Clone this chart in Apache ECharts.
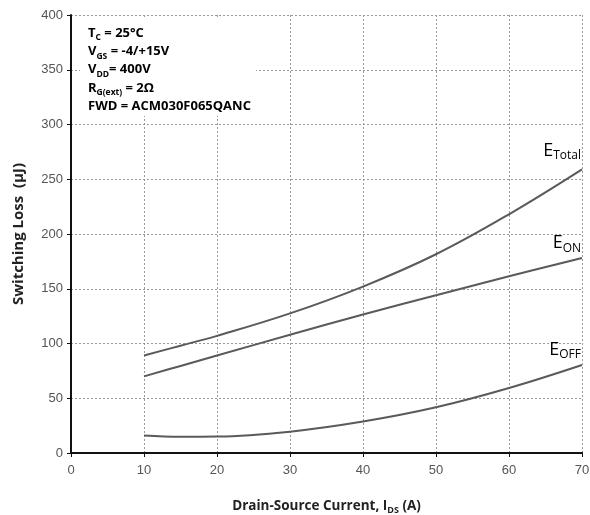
<!DOCTYPE html>
<html><head><meta charset="utf-8">
<script src="https://cdn.jsdelivr.net/npm/echarts@6/dist/echarts.min.js"></script>
<style>html,body{margin:0;padding:0;background:#fff}#c{width:590px;height:515px}</style>
</head><body><div id="c"></div>
<script>
// Data
const currentA = [10, 15, 20, 30, 40, 50, 60, 70];
const eTotal   = [89, 98, 107, 127.5, 152, 181.5, 218, 259];
const eOn      = [70, 79.5, 89, 108, 126.5, 144, 161.5, 178];
const eOff     = [16, 14.8, 15, 19.5, 28.7, 41.7, 59.3, 80.3];
const seriesNames = ['Total', 'ON', 'OFF'];
const conditions = [
  ['T', 'C', ' = 25°C'],
  ['V', 'GS', ' = -4/+15V'],
  ['V', 'DD', '= 400V'],
  ['R', 'G(ext)', ' = 2Ω'],
  ['FWD = ACM030F065QANC', '', '']
];
const xMin = 0, xMax = 70, xInterval = 10;
const yMin = 0, yMax = 400, yInterval = 50;

const pair = (ys) => currentA.map((x, i) => [x, ys[i]]);
const lineColor = '#5a5a5a';
const font = 'Open Sans';

const chart = echarts.init(document.getElementById('c'), null, {renderer: 'canvas'});
const mkSeries = (name, ys) => ({
  name, type: 'line', data: pair(ys), smooth: 0.4, symbol: 'none',
  lineStyle: {color: lineColor, width: 2}, z: 5
});

chart.setOption({
  animation: false,
  backgroundColor: '#fff',
  grid: {left: 71, right: 8, top: 15, bottom: 62, containLabel: false, outerBoundsMode: 'none'},
  xAxis: {
    type: 'value', min: xMin, max: xMax, interval: xInterval,
    name: '{a|Drain-Source Current, I}{s|DS}{a| (A)}',
    nameLocation: 'middle', nameGap: 44,
    nameTextStyle: {rich: {
      a: {fontFamily: font, fontWeight: 'bold', fontSize: 13.5, color: '#222', lineHeight: 18},
      s: {fontFamily: font, fontWeight: 'bold', fontSize: 9, color: '#222', lineHeight: 10, verticalAlign: 'bottom'}
    }},
    axisLine: {show: true, onZero: false, lineStyle: {color: '#111', width: 2}},
    axisTick: {show: true, length: 4, lineStyle: {color: '#111', width: 1}},
    axisLabel: {fontFamily: 'Liberation Sans', fontSize: 13, color: '#555', margin: 11},
    splitLine: {show: true, lineStyle: {color: '#999', type: [2, 2], width: 1}}
  },
  yAxis: {
    type: 'value', min: yMin, max: yMax, interval: yInterval,
    name: 'Switching Loss  (µJ)', nameLocation: 'middle', nameGap: 45,
    nameTextStyle: {fontFamily: font, fontWeight: 'bold', fontSize: 15, color: '#222'},
    axisLine: {show: true, onZero: false, lineStyle: {color: '#111', width: 2}},
    axisTick: {show: true, length: 4, lineStyle: {color: '#111', width: 1}},
    axisLabel: {fontFamily: 'Liberation Sans', fontSize: 13, color: '#555', margin: 8},
    splitLine: {show: true, lineStyle: {color: '#999', type: [2, 2], width: 1}}
  },
  series: [mkSeries('E_Total', eTotal), mkSeries('E_ON', eOn), mkSeries('E_OFF', eOff)]
});

// Conditions text box
const richBox = {
  n: {fontFamily: font, fontWeight: 'bold', fontSize: 13, color: '#222', lineHeight: 18.3},
  s: {fontFamily: font, fontWeight: 'bold', fontSize: 8.5, color: '#222', lineHeight: 10, verticalAlign: 'bottom'}
};
const boxText = conditions.map(c => '{n|' + c[0] + '}' + (c[1] ? '{s|' + c[1] + '}' : '') + (c[2] ? '{n|' + c[2] + '}' : '')).join('\n');

// Curve end labels, positioned from the data
const ends = [eTotal, eOn, eOff].map(ys => chart.convertToPixel({gridIndex: 0}, [currentA[currentA.length - 1], ys[ys.length - 1]]));
const lift = [8, 4, 4];
const richLbl = {
  e: {fontFamily: font, fontSize: 18, color: '#555', lineHeight: 22},
  s: {fontFamily: font, fontSize: 12, color: '#555', lineHeight: 12, verticalAlign: 'bottom'}
};
const labelEls = seriesNames.map((nm, i) => ({
  type: 'text', z: 10,
  x: ends[i][0] - 1, y: ends[i][1] - lift[i],
  style: {text: '{e|E}{s|' + nm + '}', rich: richLbl, align: 'right', verticalAlign: 'bottom'}
}));

chart.setOption({graphic: [
  {type: 'rect', z: 8, shape: {x: 80, y: 19, width: 176, height: 97}, style: {fill: '#fff'}},
  {type: 'text', z: 9, x: 88, y: 24, style: {text: boxText, rich: richBox, align: 'left', verticalAlign: 'top'}}
].concat(labelEls)});
</script></body></html>
